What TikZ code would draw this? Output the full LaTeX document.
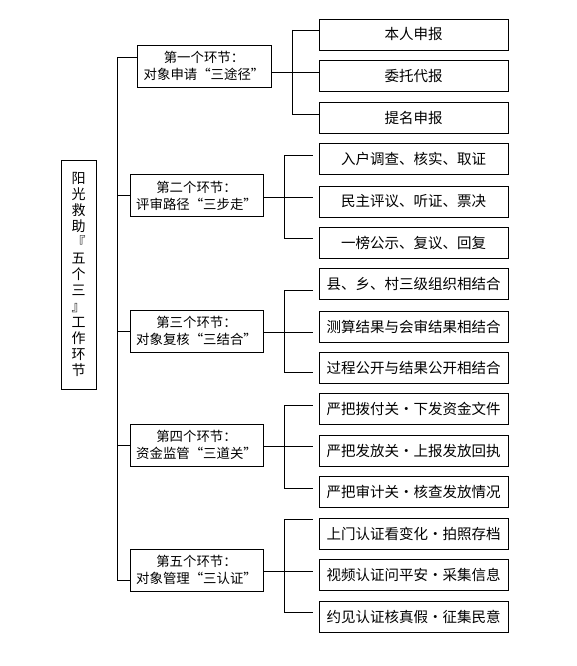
\documentclass[tikz,border=0pt]{standalone}
\usepackage{fontspec}
\setmainfont{Noto Sans CJK SC}
\begin{document}
\begin{tikzpicture}[x=1pt,y=-1pt, line width=0.8pt,
  leaf/.style={draw, minimum width=189pt, minimum height=31pt, inner sep=0pt, font=\fontsize{14.5}{16}\selectfont},
  mid/.style={draw, minimum width=133pt, minimum height=42pt, inner sep=0pt, align=center, font=\fontsize{13.4}{17}\selectfont},
  mainbox/.style={draw, minimum width=35pt, minimum height=229pt, inner sep=0pt, align=center, font=\fontsize{14}{16}\selectfont}
]
\useasboundingbox[fill=white] (0,0) rectangle (577,666);

\node[mainbox] (main) at (78.5,274.5) {阳\\光\\救\\助\\『\\五\\个\\三\\』\\工\\作\\环\\节};

\node[mid, minimum width=134pt] (m1) at (204,66) {第一个环节：\\对象申请“三途径”};
\node[mid] (m2) at (196.5,195.5) {第二个环节：\\评审路径“三步走”};
\node[mid] (m3) at (196.5,331) {第三个环节：\\对象复核“三结合”};
\node[mid] (m4) at (196.5,445) {第四个环节：\\资金监管“三道关”};
\node[mid] (m5) at (196.5,570) {第五个环节：\\对象管理“三认证”};

\node[leaf] (a1) at (413.5,34.5) {本人申报};
\node[leaf] (a2) at (413.5,76) {委托代报};
\node[leaf] (a3) at (413.5,117.5) {提名申报};
\node[leaf] (b1) at (413.5,159) {入户调查、核实、取证};
\node[leaf] (b2) at (413.5,201.5) {民主评议、听证、票决};
\node[leaf] (b3) at (413.5,242.5) {一榜公示、复议、回复};
\node[leaf] (c1) at (413.5,284) {县、乡、村三级组织相结合};
\node[leaf] (c2) at (413.5,326.5) {测算结果与会审结果相结合};
\node[leaf] (c3) at (413.5,367.5) {过程公开与结果公开相结合};
\node[leaf] (d1) at (413.5,408.5) {严把拨付关·下发资金文件};
\node[leaf] (d2) at (413.5,451) {严把发放关·上报发放回执};
\node[leaf] (d3) at (413.5,492) {严把审计关·核查发放情况};
\node[leaf] (e1) at (413.5,533.5) {上门认证看变化·拍照存档};
\node[leaf] (e2) at (413.5,575) {视频认证问平安·采集信息};
\node[leaf] (e3) at (413.5,617) {约见认证核真假·征集民意};

% left trunk
\coordinate (L1) at (117,57);
\coordinate (L5) at (117,580);
\draw (m1.west |- L1) -- (L1) -- (L5) -- (m5.west |- L5);
\draw (m2.west) -- (m2.west -| L1);
\draw (m3.west) -- (m3.west -| L1);
\draw (m4.west) -- (m4.west -| L1);

% group 1
\coordinate (g1t) at (292,30);
\coordinate (g1m) at (292,72);
\coordinate (g1b) at (292,114);
\draw (m1.east |- g1m) -- (g1m);
\draw (g1t) -- (g1b);
\draw (g1t) -- (g1t -| a1.west);
\draw (g1m) -- (g1m -| a2.west);
\draw (g1b) -- (g1b -| a3.west);

% groups 2-5
\foreach \g/\t/\m/\b in {2/155/197/238, 3/290/332/372, 4/405/446/488, 5/519/571/612}{
  \coordinate (g\g t) at (284,\t);
  \coordinate (g\g m) at (284,\m);
  \coordinate (g\g b) at (284,\b);
  \coordinate (g\g te) at (313,\t);
  \coordinate (g\g me) at (313,\m);
  \coordinate (g\g be) at (313,\b);
  \draw (m\g.east |- g\g m) -- (g\g m);
  \draw (g\g t) -- (g\g b);
  \draw (g\g t) -- (g\g te);
  \draw (g\g m) -- (g\g me);
  \draw (g\g b) -- (g\g be);
}
\end{tikzpicture}
\end{document}
